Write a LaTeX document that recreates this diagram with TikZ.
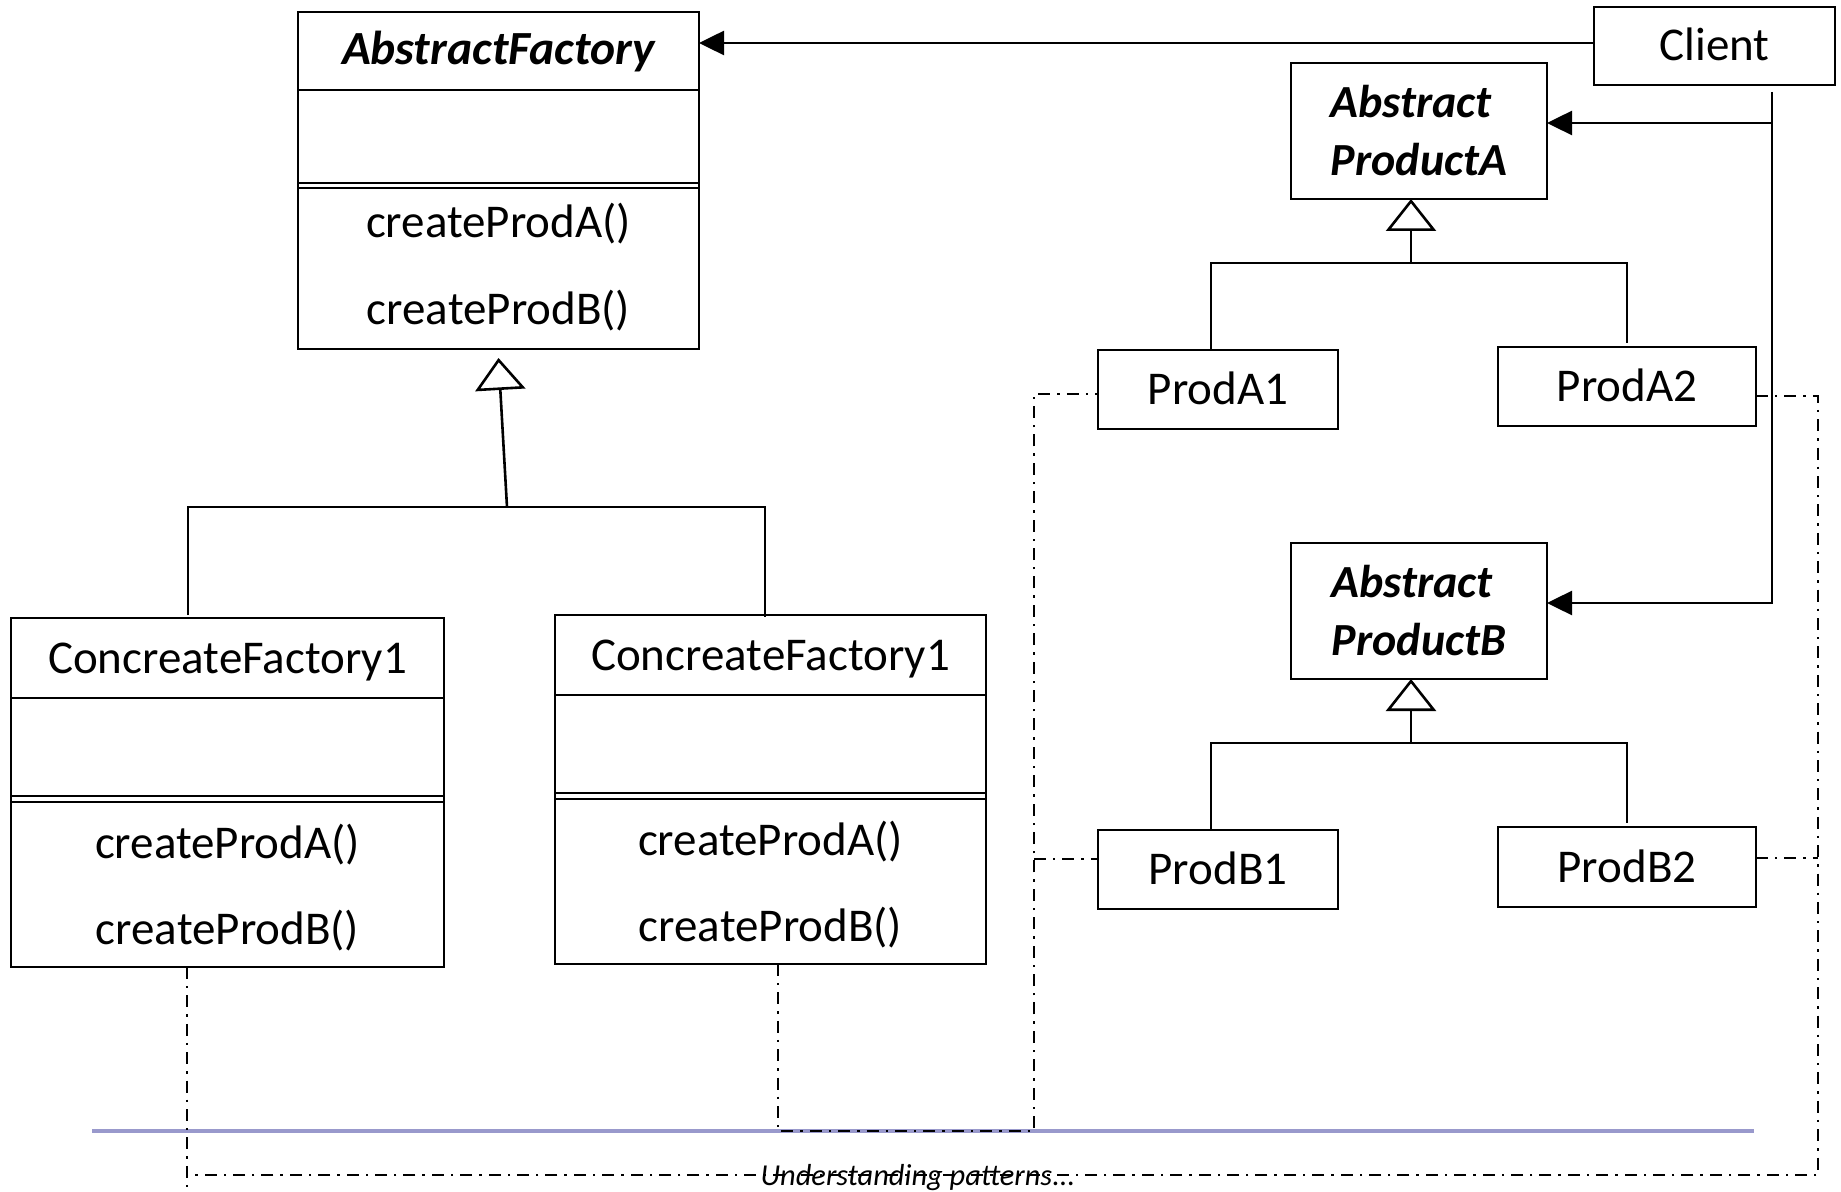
\documentclass[tikz,border=0pt]{standalone}
\usepackage{fontspec}
\setmainfont{Carlito}
\usetikzlibrary{arrows.meta,calc}
\definecolor{bluel}{RGB}{153,153,204}
\tikzset{
 box/.style={draw, line width=1.3pt, inner sep=0pt, outer sep=0pt, anchor=north west},
 rbox/.style={box, font=\fontsize{23.5}{28}\selectfont, text height=15pt, text depth=0pt},
 abox/.style={box, font=\bfseries\itshape\fontsize{23}{29}\selectfont, align=left},
 conn/.style={line width=1.3pt},
 dd/.style={line width=1.2pt, dash pattern=on 6pt off 3.5pt on 1.2pt off 3.5pt},
 ltext/.style={font=\fontsize{23.5}{28}\selectfont, anchor=base, inner sep=0pt},
 ttext/.style={font=\bfseries\itshape\fontsize{23.8}{28}\selectfont, anchor=base, inner sep=0pt},
 assoc/.style={conn, -{Triangle[length=12.5pt,width=12pt]}},
 inherit/.style={conn, -{Triangle[open,length=16pt,width=25pt,fill=white]}},
}
\begin{document}
\begin{tikzpicture}[x=0.5pt,y=-0.5pt]
\useasboundingbox (0,0) rectangle (1841,1192);
\clip (0,0) rectangle (1841,1192);

% blue rule
\draw[bluel, line width=1.8pt] (92,1131) -- (1754,1131);

% AbstractFactory
\node[box, minimum width=200.5pt, minimum height=168.5pt] (AF) at (298,12) {};
\draw[conn] (AF.west |- 0,90) -- (AF.east |- 0,90);
\draw[conn] (AF.west |- 0,183) -- (AF.east |- 0,183);
\draw[conn] (AF.west |- 0,188) -- (AF.east |- 0,188);
\node[ttext] (AFt) at (498.5,65) {AbstractFactory};
\node[ltext] (AFa) at (498.5,238) {createProdA()};
\node[ltext] (AFb) at (498.5,325) {createProdB()};

% Concrete factories
\node[box, minimum width=216.5pt, minimum height=174.5pt] (CFL) at (11,618) {};
\draw[conn] (CFL.west |- 0,698) -- (CFL.east |- 0,698);
\draw[conn] (CFL.west |- 0,796) -- (CFL.east |- 0,796);
\draw[conn] (CFL.west |- 0,802) -- (CFL.east |- 0,802);
\node[ltext] (CFLt) at (227.5,673) {ConcreateFactory1};
\node[ltext] (CFLa) at (227.5,858) {createProdA()};
\node[ltext] (CFLb) at (227.5,944) {createProdB()};

\node[box, minimum width=215.5pt, minimum height=174.5pt] (CFR) at (555,615) {};
\draw[conn] (CFR.west |- 0,695) -- (CFR.east |- 0,695);
\draw[conn] (CFR.west |- 0,793) -- (CFR.east |- 0,793);
\draw[conn] (CFR.west |- 0,799) -- (CFR.east |- 0,799);
\node[ltext] (CFRt) at (770.5,670) {ConcreateFactory1};
\node[ltext] (CFRa) at (770.5,855) {createProdA()};
\node[ltext] (CFRb) at (770.5,941) {createProdB()};

% Client and products
\node[rbox, minimum width=120.5pt, minimum height=39pt] (CL) at (1594,7) {Client};
\node[abox, minimum width=128pt, minimum height=68pt] (APA) at (1291,63) {Abstract\\ProductA};
\node[abox, minimum width=128pt, minimum height=68pt] (APB) at (1291,543) {Abstract\\ProductB};
\node[rbox, minimum width=120pt, minimum height=39.5pt] (PA1) at (1098,350) {ProdA1};
\node[rbox, minimum width=129pt, minimum height=39.5pt] (PA2) at (1498,347) {ProdA2};
\node[rbox, minimum width=120pt, minimum height=39.5pt] (PB1) at (1098,830) {ProdB1};
\node[rbox, minimum width=129pt, minimum height=40pt] (PB2) at (1498,827) {ProdB2};

% associations from Client
\draw[assoc] ($(CL.west)+(0,-3)$) -- ($(AF.east |- CL.west)+(0,-3)$);
\coordinate (cv) at (1772,92);
\coordinate (ja) at (1772,123);
\draw[conn] (cv) -- (ja);
\draw[assoc] (ja) -- (APA.east |- ja);
\draw[assoc] (ja) |- ($(APB.east)+(0,-8)$);

% inheritance: factories
\coordinate (hf) at (507,507);
\coordinate (fl) at (188,615);
\coordinate (fr) at (765,617);
\draw[inherit] (hf) -- ($(AF.south)+(0,9)$);
\draw[conn] (fl) |- (hf) -| (fr);

% inheritance: products A
\coordinate (ha) at (1411,263);
\draw[inherit] (ha) -- (ha |- APA.south);
\draw[conn] ($(PA1.north)+(-7,0)$) |- (ha) -| ($(PA2.north)+(0,-4)$);
% inheritance: products B
\coordinate (hb) at (1411,743);
\draw[inherit] (hb) -- (hb |- APB.south);
\draw[conn] ($(PB1.north)+(-7,0)$) |- (hb) -| ($(PB2.north)+(0,-4)$);

% dash-dot dependencies
\coordinate (dl) at (187,967);
\coordinate (dr) at (778,964);
\coordinate (pa1w) at (1098,394);
\coordinate (pb1w) at (1098,859);
\coordinate (pa2e) at (1756,396);
\coordinate (pb2e) at (1756,858);
\draw[dd] (dl) -- (187,1200);
\draw[dd] (pa2e) -| (1818,1175) -- (187,1175);
\draw[dd] (pb2e) -- (1818,858);
\draw[dd] (dr) -- (778,1131) -- (1034,1131) -- (1034,394) -- (pa1w);
\draw[dd] (1034,859) -- (pb1w);

\node[font=\itshape\fontsize{15.2}{18}\selectfont, anchor=base, inner sep=0pt] (und) at (918,1185) {Understanding patterns...};
\end{tikzpicture}
\end{document}
